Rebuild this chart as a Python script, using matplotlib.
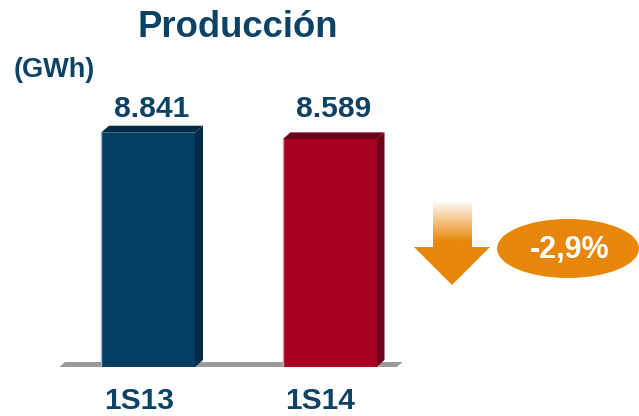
import numpy as np
import matplotlib.pyplot as plt
from matplotlib.patches import Polygon, Ellipse

plt.rcParams['font.family'] = ['Liberation Sans', 'DejaVu Sans']

# --- Dados ---
categorias = ['1S13', '1S14']
valores = [8841, 8589]
rotulos = ['8.841', '8.589']
variacao = '-2,9%'

cor_frente = ['#023F63', '#A50021']
cor_lado = ['#012A44', '#6C0016']
cor_borda = ['#9FB4C4', '#D89AA6']
cor_texto = '#0C4266'
laranja = '#E8860A'

W, H = 639, 416
fig = plt.figure(figsize=(W / 100, H / 100), dpi=100)

# --- Eixo das barras (escala: 1 unidade x = 181.5 px) ---
px_x = 181.5
ax = fig.add_axes([0, 49 / H, 1, 265 / H])
ax.set_xlim(-148 / px_x, (W - 148) / px_x)
ax.set_ylim(0, 10000)
ax.axis('off')
px_y = 10000 / 265.0  # unidades por pixel

largura = 94 / px_x
dx = 8 / px_x
dy = 7 * px_y
x = np.arange(len(categorias))

# chão cinza
x0 = x[0] - largura / 2 - 44 / px_x
x1 = x[-1] + largura / 2 + 18 / px_x
ax.add_patch(Polygon([(x0, -2 * px_y), (x1, -2 * px_y), (x1 + dx, dy - 2 * px_y),
                      (x0 + dx, dy - 2 * px_y)], closed=True,
                     facecolor='#9A9A9A', edgecolor='none', zorder=1))
ax.add_patch(Polygon([(x0, -2 * px_y), (x1, -2 * px_y), (x1, -3 * px_y),
                      (x0, -3 * px_y)], closed=True,
                     facecolor='#C8C8C8', edgecolor='none', zorder=1))

barras = ax.bar(x, valores, width=largura, color=cor_frente, zorder=3)
for b, cl, cb in zip(barras, cor_lado, cor_borda):
    xl, xr, h = b.get_x(), b.get_x() + b.get_width(), b.get_height()
    # lateral
    ax.add_patch(Polygon([(xr, 0), (xr + dx, dy), (xr + dx, h + dy), (xr, h)],
                         closed=True, facecolor=cl, edgecolor='none', zorder=2))
    # topo
    ax.add_patch(Polygon([(xl, h), (xr, h), (xr + dx, h + dy), (xl + dx, h + dy)],
                         closed=True, facecolor=cl, edgecolor='none', zorder=2))
    # borda clara à esquerda
    ax.plot([xl, xl], [0, h], color=cb, lw=1, zorder=4)

# rótulos de valor (mesma altura)
for xi, r in zip(x, rotulos):
    ax.annotate(r, xy=(xi, max(valores)), xytext=(3, 11.5), textcoords='offset points',
                ha='center', va='baseline', fontsize=21.6, fontweight='bold',
                color=cor_texto)

# categorias
for xi, c in zip(x, categorias):
    ax.annotate(c, xy=(xi, 0), xytext=(-6.5, -30.5), textcoords='offset points',
                ha='center', va='baseline', fontsize=21.5, fontweight='bold',
                color=cor_texto, annotation_clip=False)

# --- Camada em pixels para título, seta e elipse ---
ov = fig.add_axes([0, 0, 1, 1], zorder=5)
ov.axis('off')
ov.patch.set_alpha(0)

ov.text(237.5, 37, 'Producción', ha='center', va='baseline', fontsize=26.3,
        fontweight='bold', color=cor_texto)
ov.text(14, 77, '(GWh)', ha='left', va='baseline', fontsize=19.5,
        fontweight='bold', color=cor_texto)

# seta com degradê
rgb = np.array([0xE8, 0x86, 0x0A]) / 255.0
n = 60
alpha = np.clip(np.linspace(0, 1.15, n), 0, 1)[:, None]
img = np.zeros((n, 1, 4))
img[:, :, :3] = rgb
img[:, :, 3] = alpha
ov.imshow(img, extent=(433, 472, 248, 200), origin='upper', aspect='auto',
          interpolation='bilinear', zorder=2)
ov.add_patch(Polygon([(414, 247), (490, 247), (452, 285)], closed=True,
                     facecolor=laranja, edgecolor='none', zorder=3))
ov.set_xlim(0, W)
ov.set_ylim(H, 0)

ov.add_patch(Ellipse((568, 248.5), 142, 59, facecolor=laranja, edgecolor='none', zorder=3))
ov.text(570, 258, variacao, ha='center', va='baseline', fontsize=22,
        fontweight='bold', color='white', zorder=4)

fig.savefig('out.png', dpi=100)
